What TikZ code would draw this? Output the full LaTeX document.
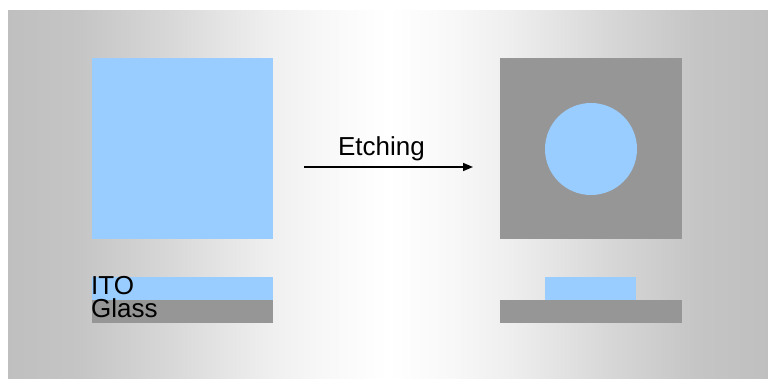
\documentclass[tikz,border=0pt]{standalone}
\usepackage{fontspec}
\setmainfont{Liberation Sans}
\usetikzlibrary{arrows.meta}
\definecolor{ito}{HTML}{99CCFF}
\definecolor{glass}{HTML}{969696}
\definecolor{bgg}{HTML}{BEBEBE}
\definecolor{gA}{HTML}{C5C5C5}
\definecolor{gB}{HTML}{D8D8D8}
\definecolor{gC}{HTML}{E6E6E6}
\definecolor{gD}{HTML}{EFEFEF}
\definecolor{gE}{HTML}{F8F8F8}
\pgfdeclarehorizontalshading{bgshade}{100bp}{color(0bp)=(bgg); color(24bp)=(bgg); color(29.72bp)=(gA); color(35.75bp)=(gB); color(39.6bp)=(gC); color(42.2bp)=(gD); color(45.84bp)=(gE); color(50bp)=(white); color(54.16bp)=(gE); color(57.8bp)=(gD); color(60.4bp)=(gC); color(64.25bp)=(gB); color(70.28bp)=(gA); color(76bp)=(bgg); color(100bp)=(bgg)}
\begin{document}
\begin{tikzpicture}[x=1pt,y=-1pt,
  itofill/.style={fill=ito,draw=none},
  glassfill/.style={fill=glass,draw=none},
  lbl/.style={inner sep=0pt,font=\fontsize{26}{26}\selectfont,text=black}]
\useasboundingbox (0,0) rectangle (768,378);
\fill[white] (0,0) rectangle (768,378);
\shade[shading=bgshade] (8,10) rectangle (768,378);
% left panel
\path[itofill] (92,58) rectangle (273,239);
\path[itofill] (92,277) rectangle (273,300);
\path[glassfill] (92,300) rectangle (273,323);
% right panel
\path[glassfill] (500,58) rectangle (682,239);
\node[circle,itofill,minimum size=92pt,inner sep=0pt] (dot) at (591,149) {};
\path[itofill] (545,277) rectangle (636,300);
\path[glassfill] (500,300) rectangle (682,323);
% labels
\node[lbl,anchor=base west] (ito) at (91,294) {ITO};
\node[lbl,anchor=base west] (gl) at (91,317) {Glass};
\node[lbl,anchor=base] (et) at (381.5,155) {Etching};
% arrow
\coordinate (a1) at (304,167);
\coordinate (a2) at (473,167);
\draw[line width=1.5pt,-{Triangle[length=10pt,width=8pt]}] (a1) -- (a2);
\end{tikzpicture}
\end{document}
